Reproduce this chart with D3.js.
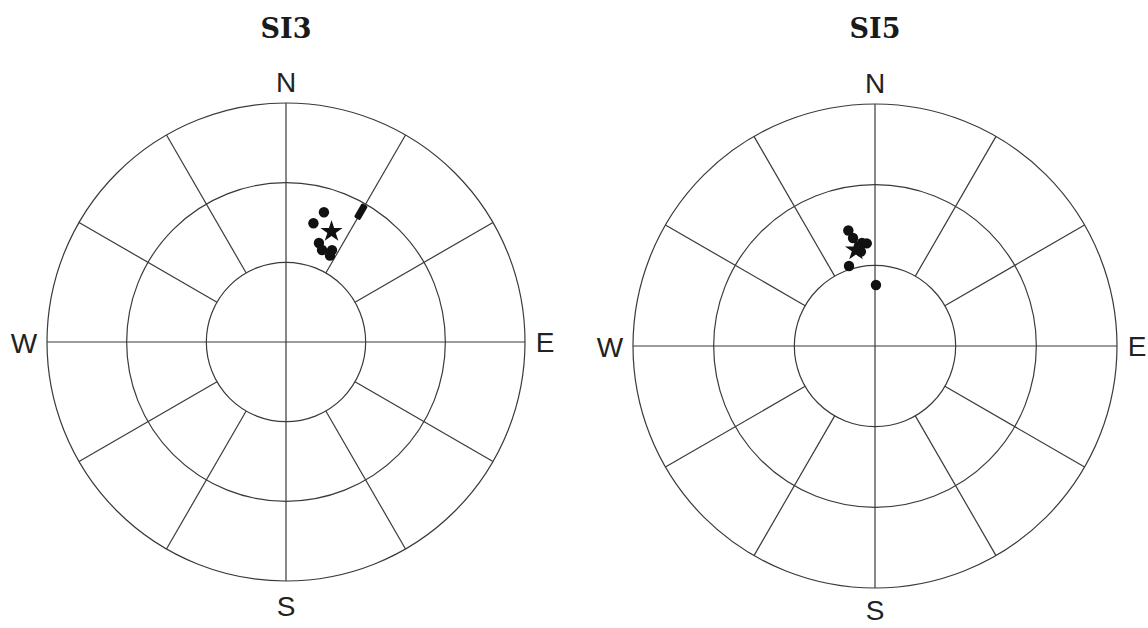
<!DOCTYPE html>
<html>
<head>
<meta charset="utf-8">
<script src="https://cdn.jsdelivr.net/npm/d3@7"></script>
<style>
  html, body { margin: 0; padding: 0; background: #fff; }
</style>
</head>
<body>
<div id="chart"></div>
<script>
// station titles
const stations = ["SI3", "SI5"];

// SI3 observations: azimuth (deg from N) and radial value (deg)
const si3Az = [16.3, 13.0, 18.4, 21.4, 26.6, 27.0];
const si3Rad = [50.9, 45.9, 39.3, 37.2, 38.7, 36.5];
const si3StarAz = [22.4];
const si3StarRad = [45.0];
const si3BarAz = [29.9];
const si3BarRad = [56.6];

// SI5 observations
const si5Az = [347.0, 348.5, 352.8, 355.4, 342.0, 0.9, 351.5];
const si5Rad = [44.1, 41.0, 38.6, 38.3, 31.3, 22.7, 35.5];
const si5StarAz = [348.8];
const si5StarRad = [36.4];
const si5BarAz = [];
const si5BarRad = [];

// grid
const ringTicks = [30, 60, 90];
const spokeAngles = [30, 60, 120, 150, 210, 240, 300, 330];
const compass = ["N", "E", "S", "W"];

const width = 1148, height = 628;

const svg = d3.select("#chart")
  .append("svg")
  .attr("width", width)
  .attr("height", height)
  .attr("viewBox", `0 0 ${width} ${height}`);

const panels = [
  { title: stations[0], cx: 286, cy: 342, R: 239,
    az: si3Az, rad: si3Rad, starAz: si3StarAz, starRad: si3StarRad, barAz: si3BarAz, barRad: si3BarRad },
  { title: stations[1], cx: 875, cy: 346, R: 242,
    az: si5Az, rad: si5Rad, starAz: si5StarAz, starRad: si5StarRad, barAz: si5BarAz, barRad: si5BarRad }
];

const toRad = (deg) => deg * Math.PI / 180;

panels.forEach((p) => {
  const r = d3.scaleLinear().domain([0, 90]).range([0, p.R]);
  const pos = (az, v) => [r(v) * Math.sin(toRad(az)), -r(v) * Math.cos(toRad(az))];

  const g = svg.append("g").attr("transform", `translate(${p.cx}, ${p.cy})`);

  // title
  svg.append("text")
    .attr("x", p.cx)
    .attr("y", 38)
    .attr("text-anchor", "middle")
    .style("font-family", "'DejaVu Serif', serif")
    .style("font-weight", "bold")
    .style("font-size", "27px")
    .style("fill", "#1a1a1a")
    .text(p.title);

  const gridColor = "#3a3a3a";

  // rings
  g.selectAll(".ring")
    .data(ringTicks)
    .enter()
    .append("circle")
    .attr("r", (d) => r(d))
    .style("fill", "none")
    .style("stroke", gridColor)
    .style("stroke-width", 1.2);

  // N-S and E-W axes through the centre
  g.selectAll(".axis")
    .data([0, 90])
    .enter()
    .append("line")
    .attr("x1", (d) => pos(d, 90)[0])
    .attr("y1", (d) => pos(d, 90)[1])
    .attr("x2", (d) => pos(d + 180, 90)[0])
    .attr("y2", (d) => pos(d + 180, 90)[1])
    .style("stroke", gridColor)
    .style("stroke-width", 1.2);

  // spokes between inner and outer ring
  g.selectAll(".spoke")
    .data(spokeAngles)
    .enter()
    .append("line")
    .attr("x1", (d) => pos(d, ringTicks[0])[0])
    .attr("y1", (d) => pos(d, ringTicks[0])[1])
    .attr("x2", (d) => pos(d, 90)[0])
    .attr("y2", (d) => pos(d, 90)[1])
    .style("stroke", gridColor)
    .style("stroke-width", 1.2);

  // compass labels (N, E, S, W)
  const R = r(90);
  const sBase = Math.min(R + 35, height - 8 - p.cy);
  const labelPos = [
    [0, -R - 11],
    [R + 20, 10],
    [0, sBase],
    [-R - 23, 11]
  ];
  g.selectAll(".compass")
    .data(compass)
    .enter()
    .append("text")
    .attr("x", (d, i) => labelPos[i][0])
    .attr("y", (d, i) => labelPos[i][1])
    .attr("text-anchor", "middle")
    .style("font-family", "'Liberation Sans', Arial, sans-serif")
    .style("font-size", "28px")
    .style("fill", "#222")
    .text((d) => d);

  // dots
  const dots = p.az.map((a, i) => ({ az: a, v: p.rad[i] }));
  g.selectAll(".dot")
    .data(dots)
    .enter()
    .append("path")
    .attr("d", d3.symbol().type(d3.symbolCircle).size(85))
    .attr("transform", (d) => `translate(${pos(d.az, d.v)})`)
    .style("fill", "#111");

  // elongated markers
  const bars = p.barAz.map((a, i) => ({ az: a, v: p.barRad[i] }));
  g.selectAll(".bar")
    .data(bars)
    .enter()
    .append("rect")
    .attr("x", -3.5)
    .attr("y", -8)
    .attr("width", 7)
    .attr("height", 16)
    .attr("rx", 1.5)
    .attr("transform", (d) => `translate(${pos(d.az, d.v)}) rotate(${d.az})`)
    .style("fill", "#111");

  // star (mean)
  const stars = p.starAz.map((a, i) => ({ az: a, v: p.starRad[i] }));
  g.selectAll(".star")
    .data(stars)
    .enter()
    .append("path")
    .attr("d", d3.symbol().type(d3.symbolStar).size(150))
    .attr("transform", (d) => `translate(${pos(d.az, d.v)})`)
    .style("fill", "#111");
});
</script>
</body>
</html>
